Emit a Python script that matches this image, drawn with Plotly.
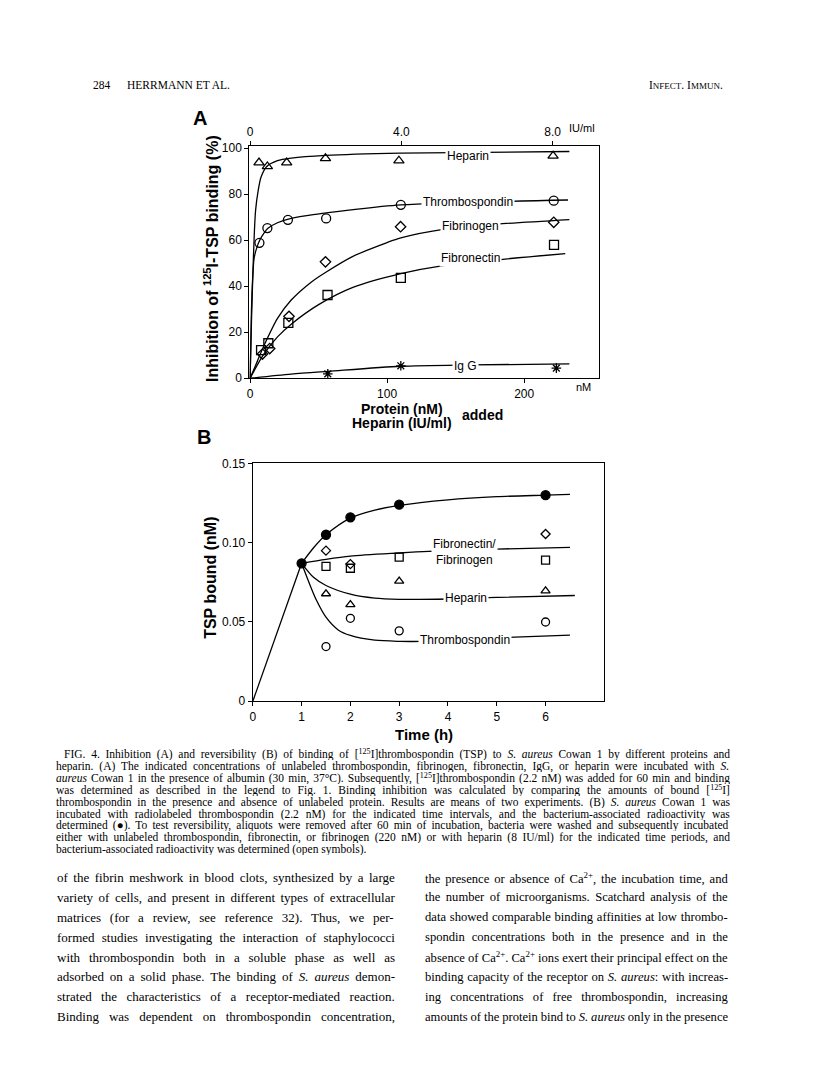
import re
import plotly.graph_objects as go

W, H = 816, 1079
OFF = 8  # the page body adds an 8 px margin; pull everything back by that

# ---- panel A : inhibition (x in nM, heparin plotted on the same scale) ----
hep_x = [6.5, 12.6, 26.7, 55.0, 108.6, 221.1]
hep_y = [93.8, 92.1, 93.8, 95.6, 94.6, 96.7]
tsp_x = [6.8, 12.6, 27.6, 55.5, 110.0, 221.6]
tsp_y = [58.9, 65.3, 68.9, 69.5, 75.4, 77.2]
fbg_x = [9.0, 14.3, 28.4, 55.0, 109.8, 221.6]
fbg_y = [10.5, 12.9, 26.9, 50.6, 65.9, 67.8]
fbn_x = [8.0, 13.3, 27.9, 56.5, 110.0, 221.8]
fbn_y = [12.2, 15.2, 24.1, 36.2, 43.6, 58.0]
igg_x = [56.7, 110.0, 223.5]
igg_y = [1.9, 5.4, 4.4]

# fitted curves
hep_fit_x = [0, 1, 2, 3, 4, 6, 8, 12, 20, 30, 55, 110, 233]
hep_fit_y = [0, 25, 45, 62, 73, 82, 87.5, 92, 94.6, 95.7, 96.9, 97.9, 98.6]
tsp_fit_x = [0, 1, 2, 3, 5, 7, 10, 13, 20, 30, 48, 72, 110, 232]
tsp_fit_y = [0, 30, 45, 52.5, 57, 60, 63, 65.2, 67.6, 69.5, 71.3, 73.1, 75.4, 77.5]
fbg_fit_x = [0, 5, 10, 20, 30, 45, 55, 75, 100, 110, 142, 180, 233]
fbg_fit_y = [0, 7, 14, 26, 34, 42, 46, 53, 59, 61, 64.8, 67, 69]
fbn_fit_x = [0, 5, 10, 20, 30, 50, 75, 110, 141, 230]
fbn_fit_y = [0, 5.5, 10.5, 18, 23.5, 32, 39.5, 45.5, 49, 54.2]
igg_fit_x = [0, 30, 57, 110, 160, 233]
igg_fit_y = [0, 1.8, 3, 5.2, 5.8, 6.2]

nm_per_iu = 27.6
iu_ticks = [0, 4, 8]
iu_labels = ["0", "4.0", "8.0"]

# ---- panel B : reversibility ----
bind_t = [1, 1.5, 2, 3, 6]
bind_v = [0.087, 0.105, 0.116, 0.124, 0.130]
open_t = [1.5, 2, 3, 6]
fbg_b = [0.095, 0.0865, None, 0.1055]
fbn_b = [0.0851, 0.0839, 0.0909, 0.089]
hep_b = [0.0678, 0.061, 0.0758, 0.0696]
tsp_b = [0.0345, 0.0523, 0.0444, 0.050]

rise_t = [0, 1]
rise_v = [0, 0.087]
bind_fit_t = [1, 1.25, 1.5, 2, 2.5, 3, 4, 5, 6, 6.5]
bind_fit_v = [0.087, 0.097, 0.105, 0.1155, 0.1205, 0.1235, 0.127, 0.129, 0.130, 0.1305]
fib_fit_t = [1, 1.5, 2, 3, 3.6, 5, 6.5]
fib_fit_v = [0.087, 0.0895, 0.0915, 0.0935, 0.0945, 0.096, 0.097]
hepb_fit_t = [1, 1.25, 1.5, 2, 2.5, 3, 4, 5, 6.6]
hepb_fit_v = [0.087, 0.078, 0.073, 0.0675, 0.065, 0.0643, 0.0645, 0.0655, 0.0667]
tspb_fit_t = [1, 1.15, 1.3, 1.5, 1.75, 2, 2.5, 3, 3.5, 5.2, 6.5]
tspb_fit_v = [0.087, 0.075, 0.064, 0.053, 0.045, 0.0415, 0.0385, 0.0378, 0.0378, 0.0403, 0.0417]

caption = [
    "FIG. 4. Inhibition (A) and reversibility (B) of binding of [<sup>125</sup>I]thrombospondin (TSP) to <i>S. aureus</i> Cowan 1 by different proteins and",
    "heparin. (A) The indicated concentrations of unlabeled thrombospondin, fibrinogen, fibronectin, IgG, or heparin were incubated with <i>S.</i>",
    "<i>aureus</i> Cowan 1 in the presence of albumin (30 min, 37°C). Subsequently, [<sup>125</sup>I]thrombospondin (2.2 nM) was added for 60 min and binding",
    "was determined as described in the legend to Fig. 1. Binding inhibition was calculated by comparing the amounts of bound [<sup>125</sup>I]",
    "thrombospondin in the presence and absence of unlabeled protein. Results are means of two experiments. (B) <i>S. aureus</i> Cowan 1 was",
    "incubated with radiolabeled thrombospondin (2.2 nM) for the indicated time intervals, and the bacterium-associated radioactivity was",
    "determined (●). To test reversibility, aliquots were removed after 60 min of incubation, bacteria were washed and subsequently incubated",
    "either with unlabeled thrombospondin, fibronectin, or fibrinogen (220 nM) or with heparin (8 IU/ml) for the indicated time periods, and",
    "bacterium-associated radioactivity was determined (open symbols).",
]
col_left = [
    "of the fibrin meshwork in blood clots, synthesized by a large",
    "variety of cells, and present in different types of extracellular",
    "matrices (for a review, see reference 32). Thus, we per-",
    "formed studies investigating the interaction of staphylococci",
    "with thrombospondin both in a soluble phase as well as",
    "adsorbed on a solid phase. The binding of <i>S. aureus</i> demon-",
    "strated the characteristics of a receptor-mediated reaction.",
    "Binding was dependent on thrombospondin concentration,",
]
col_right = [
    "the presence or absence of Ca<sup>2+</sup>, the incubation time, and",
    "the number of microorganisms. Scatchard analysis of the",
    "data showed comparable binding affinities at low thrombo-",
    "spondin concentrations both in the presence and in the",
    "absence of Ca<sup>2+</sup>. Ca<sup>2+</sup> ions exert their principal effect on the",
    "binding capacity of the receptor on <i>S. aureus</i>: with increas-",
    "ing concentrations of free thrombospondin, increasing",
    "amounts of the protein bind to <i>S. aureus</i> only in the presence",
]

# rough Times advance widths (per 1000 em), used to justify the text lines
TIMES = {" ": 250, ".": 250, ",": 250, ":": 278, ";": 278, "(": 333, ")": 333, "[": 333,
         "]": 333, "-": 333, "/": 278, "°": 400, "●": 600, "+": 564}
TIMES.update(dict(zip("abcdefghijklmnopqrstuvwxyz",
                      [444, 500, 444, 500, 444, 333, 500, 500, 278, 278, 500, 278, 778,
                       500, 500, 500, 500, 333, 389, 278, 500, 500, 722, 500, 500, 444])))
TIMES.update(dict(zip("ABCDEFGHIJKLMNOPQRSTUVWXYZ",
                      [722, 667, 667, 722, 611, 556, 722, 722, 333, 389, 722, 611, 889,
                       722, 722, 556, 722, 667, 556, 611, 722, 722, 944, 722, 722, 611])))
TIMES.update({d: 500 for d in "0123456789"})


def text_width(s, size):
    w = 0.0
    for part in re.split(r"(<sup>.*?</sup>)", s):
        scale = 0.7 if part.startswith("<sup>") else 1.0
        plain = re.sub(r"<[^>]+>", "", part)
        w += sum(TIMES.get(c, 500) for c in plain) * size * scale / 1000
    return w


def justify(s, size, target):
    spaces = re.sub(r"<[^>]+>", "", s).count(" ")
    ws = (target - text_width(s, size)) / max(spaces, 1)
    return "<span style='word-spacing:%.2fpx'>%s</span>" % (ws, s)


def px(x):
    return (x - OFF) / W


def py(y):
    return 1 - (y - OFF) / H


SANS = "Liberation Sans, Arial, sans-serif"
SERIF = "Liberation Serif, Times New Roman, serif"

fig = go.Figure()


def line(x, y, xa="x", ya="y", shape="spline"):
    fig.add_trace(go.Scatter(x=x, y=y, mode="lines", xaxis=xa, yaxis=ya,
                             line=dict(color="black", width=1.3, shape=shape, smoothing=0.8),
                             showlegend=False, hoverinfo="skip"))


def pts(x, y, sym, size, xa="x", ya="y"):
    fig.add_trace(go.Scatter(x=x, y=y, mode="markers", xaxis=xa, yaxis=ya,
                             marker=dict(symbol=sym, size=size, color="black",
                                         line=dict(color="black", width=1.3)),
                             showlegend=False))


# panel A
line(hep_fit_x, hep_fit_y)
line(tsp_fit_x, tsp_fit_y)
line(fbg_fit_x, fbg_fit_y)
line(fbn_fit_x, fbn_fit_y)
line(igg_fit_x, igg_fit_y)
pts(hep_x, hep_y, "triangle-up-open", 9)
pts(tsp_x, tsp_y, "circle-open", 9)
pts(fbg_x, fbg_y, "diamond-open", 8)
pts(fbn_x, fbn_y, "square-open", 9)
pts(igg_x, igg_y, "asterisk-open", 8)
fig.add_trace(go.Scatter(x=[], y=[], xaxis="x3", yaxis="y", showlegend=False))

# panel B
line(rise_t, rise_v, "x2", "y2", "linear")
line(bind_fit_t, bind_fit_v, "x2", "y2")
line(fib_fit_t, fib_fit_v, "x2", "y2")
line(hepb_fit_t, hepb_fit_v, "x2", "y2")
line(tspb_fit_t, tspb_fit_v, "x2", "y2")
pts(bind_t, bind_v, "circle", 9, "x2", "y2")
pts(open_t, fbg_b, "diamond-open", 7, "x2", "y2")
pts(open_t, fbn_b, "square-open", 8, "x2", "y2")
pts(open_t, hep_b, "triangle-up-open", 8, "x2", "y2")
pts(open_t, tsp_b, "circle-open", 8, "x2", "y2")

ax_common = dict(showline=True, linecolor="black", linewidth=1.3, mirror=True,
                 ticks="outside", ticklen=4, tickcolor="black", showgrid=False,
                 zeroline=False, tickfont=dict(family=SANS, size=12, color="black"))

xa_rng = [-0.5, 254.5]
fig.update_layout(
    width=W, height=H, margin=dict(l=0, r=0, t=0, b=0),
    paper_bgcolor="white", plot_bgcolor="white",
    xaxis=dict(domain=[px(247.3), px(598)], range=xa_rng, anchor="y",
               tickvals=[0, 100, 200], **ax_common),
    yaxis=dict(domain=[py(376), py(140.7)], range=[0, 101], anchor="x",
               tickvals=[0, 20, 40, 60, 80, 100], **ax_common),
    xaxis3=dict(domain=[px(247.3), px(598)], range=[v / nm_per_iu for v in xa_rng],
                overlaying="x", side="top", anchor="y",
                tickvals=iu_ticks, ticktext=iu_labels,
                showline=False, ticks="outside", ticklen=4, tickcolor="black",
                showgrid=False, zeroline=False,
                tickfont=dict(family=SANS, size=12, color="black")),
    xaxis2=dict(domain=[px(250.7), px(603.3)], range=[0, 7.2], anchor="y2",
                tickvals=[0, 1, 2, 3, 4, 5, 6], **ax_common),
    yaxis2=dict(domain=[py(703.3), py(462.3)], range=[0, 0.15], anchor="x2",
                tickvals=[0, 0.05, 0.10, 0.15], ticktext=["0", "0.05", "0.10", "0.15"],
                **ax_common),
)

ann = []


def text(x, y, s, size=11, family=SANS, xanchor="center", bold=False, angle=0, bg=None,
         ref=("paper", "paper"), height=None):
    if bold:
        s = "<b>" + s + "</b>"
    d = dict(x=x, y=y, xref=ref[0], yref=ref[1], text=s, showarrow=False,
             xanchor=xanchor, yanchor="middle", textangle=angle,
             font=dict(family=family, size=size, color="black"))
    if bg:
        d.update(bgcolor=bg, borderpad=1)
    if height:
        d.update(height=height, borderpad=0)
    ann.append(d)


# curve labels, panel A
text(159, 96.7, "Heparin", 12, bg="white", ref=("x", "y"))
text(159, 76.8, "Thrombospondin", 12, bg="white", ref=("x", "y"))
text(161, 66.3, "Fibrinogen", 12, bg="white", ref=("x", "y"))
text(161, 52.3, "Fibronectin", 12, bg="white", ref=("x", "y"))
text(157.5, 5.2, "Ig G", 12, bg="white", ref=("x", "y"))
# curve labels, panel B
text(4.33, 0.0942, "Fibronectin/<br>Fibrinogen", 12, bg="white", ref=("x2", "y2"))
text(4.37, 0.0651, "Heparin", 12, bg="white", ref=("x2", "y2"))
text(4.35, 0.0389, "Thrombospondin", 12, bg="white", ref=("x2", "y2"))

# panel letters and axis titles
text(px(198), py(112), "A", 20, bold=True)
text(px(202), py(436), "B", 20, bold=True)
text(px(209), py(255), "Inhibition of <sup>125</sup>I-TSP binding (%)", 16, bold=True, angle=-90)
text(px(400), py(407), "Protein (nM)", 14, bold=True)
text(px(400), py(421), "Heparin (IU/ml)", 14, bold=True)
text(px(481), py(413), "added", 14, bold=True)
text(px(583), py(385), "nM", 11)
text(px(566), py(122), "IU/ml", 11, xanchor="left")
text(px(208), py(578), "TSP bound (nM)", 16, bold=True, angle=-90)
text(px(423), py(737), "Time (h)", 15, bold=True)

# running head
text(px(88), py(79), "284", 11.5, SERIF, "left")
text(px(122), py(79), "HERRMANN ET AL.", 11.5, SERIF, "left")
text(px(725), py(79), "I<span style='font-size:9px'>NFECT</span>. I<span style='font-size:9px'>MMUN</span>.",
     11.5, SERIF, "right")

# caption (justified between x = 52 and 726, first line indented)
cap_size = 11.5
for i, s in enumerate(caption):
    x0 = 60 if i == 0 else 52
    body = s if i == len(caption) - 1 else justify(s, cap_size, 726 - x0)
    text(px(x0), py(757 + 12.0 * i), body, cap_size, SERIF, "left", height=12)

# body text, two justified columns
for i, s in enumerate(col_left):
    text(px(52), py(882 + 20.1 * i), justify(s, 13, 390 - 52), 13, SERIF, "left")
for i, s in enumerate(col_right):
    text(px(422), py(882 + 20.1 * i), justify(s, 12.6, 725 - 422), 12.6, SERIF, "left")

fig.update_layout(annotations=ann)
fig.write_html("out.html")
